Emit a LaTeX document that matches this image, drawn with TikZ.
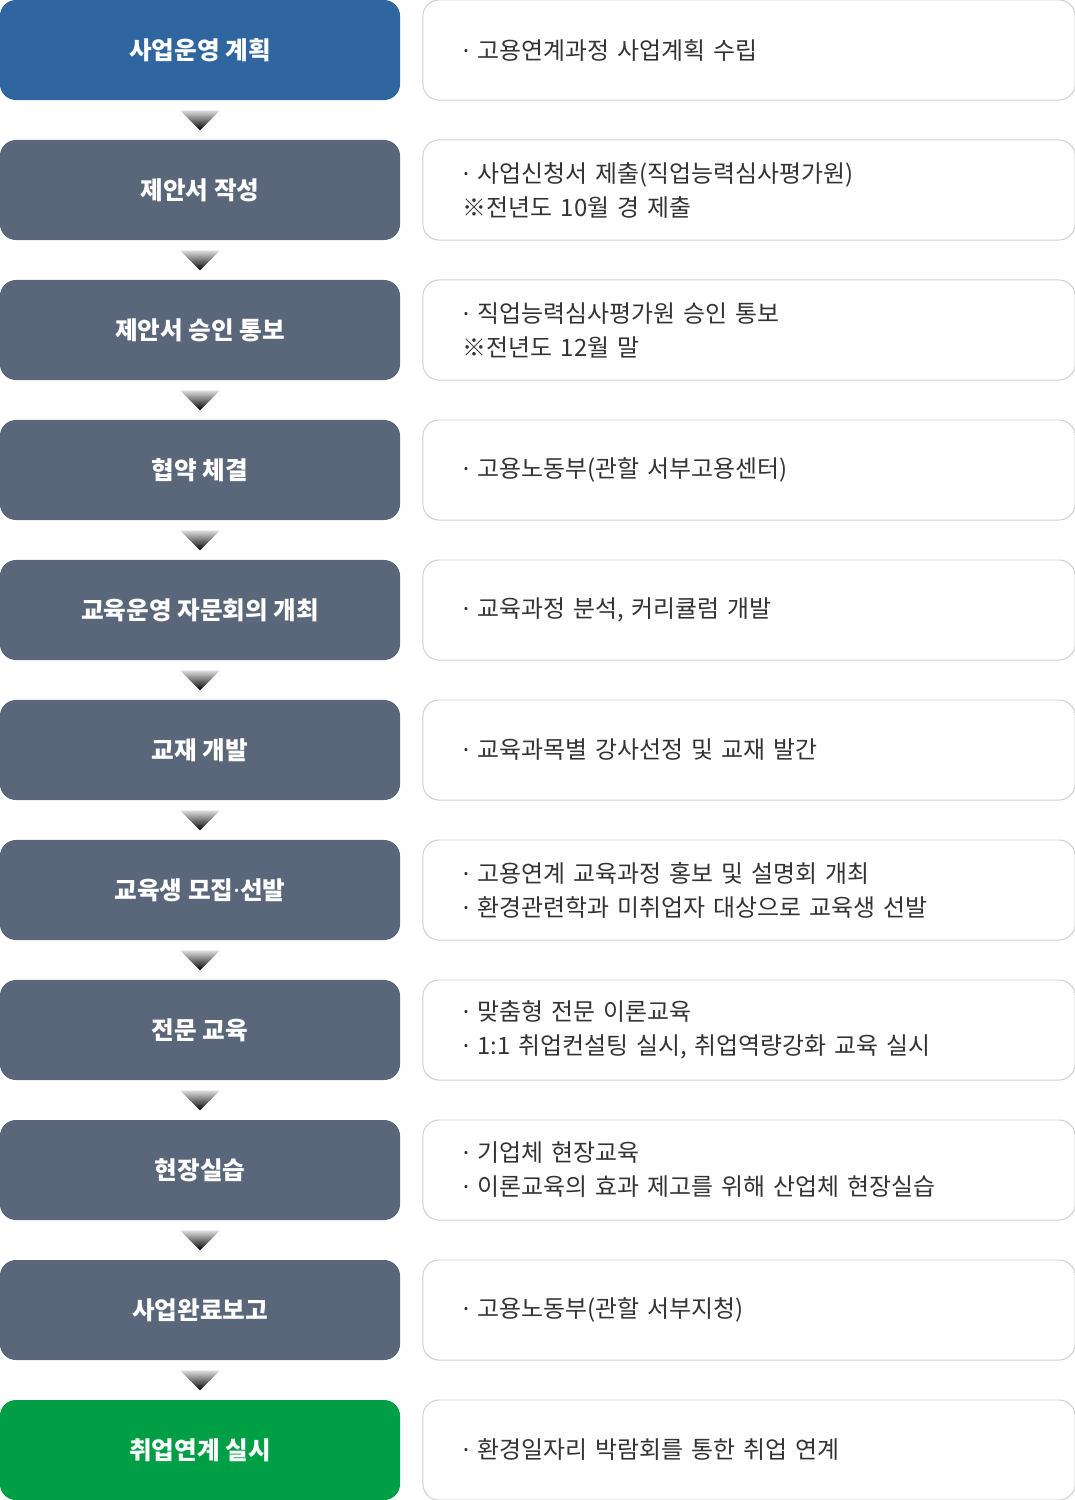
\documentclass[tikz,border=0pt]{standalone}
\usepackage{fontspec}
\setmainfont{Noto Sans CJK KR}
\newfontfamily\dotfont{Noto Sans}
\newcommand{\bul}{{\dotfont ·}}
\usetikzlibrary{calc}
\usepackage{xcolor}
\definecolor{planblue}{HTML}{3066A0}
\definecolor{stepgray}{HTML}{5A6679}
\definecolor{endgreen}{HTML}{009F45}
\definecolor{boxline}{HTML}{CFCFCF}
\definecolor{infogray}{HTML}{333333}

\tikzset{
  stepbox/.style={fill=stepgray, rounded corners=0.4cm, minimum width=10cm, minimum height=2.5cm,
    inner sep=0pt, text=white, font=\fontsize{17.5}{21}\selectfont\bfseries},
  infobox/.style={draw=boxline, line width=0.7pt, rounded corners=0.4cm, minimum width=16.3cm,
    minimum height=2.5cm, inner xsep=1cm, inner ysep=0pt, text width=14.3cm, align=left,
    text=infogray, font=\fontsize{17}{24.2}\selectfont}
}

\begin{document}
\begin{tikzpicture}[x=0.025cm,y=-0.025cm]
\useasboundingbox (0,0) rectangle (1075,1500);
\node[stepbox, fill=planblue](s0) at (200,50) {사업운영 계획};
\node[infobox](i0) at (749,50) {\bul{} 고용연계과정 사업계획 수립};
\node[stepbox](s1) at (200,190) {제안서 작성};
\node[infobox](i1) at (749,190) {\bul{} 사업신청서 제출(직업능력심사평가원)\\※전년도 10월 경 제출};
\node[stepbox](s2) at (200,330) {제안서 승인 통보};
\node[infobox](i2) at (749,330) {\bul{} 직업능력심사평가원 승인 통보\\※전년도 12월 말};
\node[stepbox](s3) at (200,470) {협약 체결};
\node[infobox](i3) at (749,470) {\bul{} 고용노동부(관할 서부고용센터)};
\node[stepbox](s4) at (200,610) {교육운영 자문회의 개최};
\node[infobox](i4) at (749,610) {\bul{} 교육과정 분석, 커리큘럼 개발};
\node[stepbox](s5) at (200,750) {교재 개발};
\node[infobox](i5) at (749,750) {\bul{} 교육과목별 강사선정 및 교재 발간};
\node[stepbox](s6) at (200,890) {교육생 모집\bul{}선발};
\node[infobox](i6) at (749,890) {\bul{} 고용연계 교육과정 홍보 및 설명회 개최\\\bul{} 환경관련학과 미취업자 대상으로 교육생 선발};
\node[stepbox](s7) at (200,1030) {전문 교육};
\node[infobox](i7) at (749,1030) {\bul{} 맞춤형 전문 이론교육\\\bul{} 1:1 취업컨설팅 실시, 취업역량강화 교육 실시};
\node[stepbox](s8) at (200,1170) {현장실습};
\node[infobox](i8) at (749,1170) {\bul{} 기업체 현장교육\\\bul{} 이론교육의 효과 제고를 위해 산업체 현장실습};
\node[stepbox](s9) at (200,1310) {사업완료보고};
\node[infobox](i9) at (749,1310) {\bul{} 고용노동부(관할 서부지청)};
\node[stepbox, fill=endgreen](s10) at (200,1450) {취업연계 실시};
\node[infobox](i10) at (749,1450) {\bul{} 환경일자리 박람회를 통한 취업 연계};
% down arrows between the steps
\foreach \i in {0,...,9}{
  \shade[top color=black!12, bottom color=black]
    ($(s\i.south)+(-20,10)$) -- ($(s\i.south)+(20,10)$) -- ($(s\i.south)+(0,30)$) -- cycle;
}
\end{tikzpicture}
\end{document}
